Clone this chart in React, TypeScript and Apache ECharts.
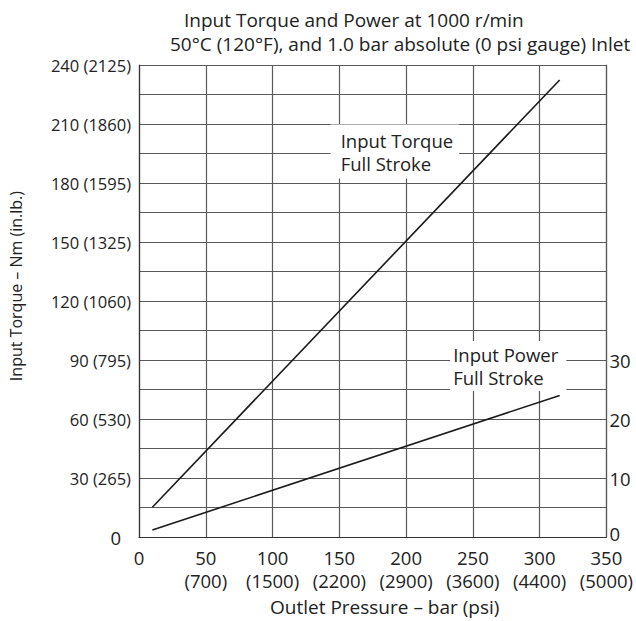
import React, { useEffect, useRef } from "react";
import * as echarts from "echarts";

const TITLE_LINE1 = "Input Torque and Power at 1000 r/min";
const TITLE_LINE2 = "50°C (120°F), and 1.0 bar absolute (0 psi gauge) Inlet";

const pressureTicks = [0, 50, 100, 150, 200, 250, 300, 350];
const psiLabels = ["", "(700)", "(1500)", "(2200)", "(2900)", "(3600)", "(4400)", "(5000)"];

const torqueTicks = [0, 30, 60, 90, 120, 150, 180, 210, 240];
const inlbLabels = ["", "(265)", "(530)", "(795)", "(1060)", "(1325)", "(1595)", "(1860)", "(2125)"];

const powerTicks = [0, 10, 20, 30];

// Input torque, full stroke: [bar, Nm]
const torqueData: [number, number][] = [
  [10, 15.2],
  [315, 232.4],
];
// Input power, full stroke: [bar, kW]
const powerData: [number, number][] = [
  [10, 1.2],
  [315, 24],
];

const FONT = "Open Sans";

export default function App() {
  const ref = useRef<HTMLDivElement>(null);
  useEffect(() => {
    if (!ref.current) return;
    const chart = echarts.init(ref.current, null, { renderer: "svg" });
    const gridColor = "#5a5a5a";
    chart.setOption({
      animation: false,
      backgroundColor: "#fff",
      textStyle: { fontFamily: FONT, color: "#222" },
      title: [
        {
          text: TITLE_LINE1,
          left: 179,
          top: 4,
          textStyle: { fontFamily: FONT, fontSize: 19, lineHeight: 22, fontWeight: "normal", color: "#222" },
        },
        {
          text: TITLE_LINE2,
          left: 165,
          top: 28,
          textStyle: { fontFamily: FONT, fontSize: 19, lineHeight: 22, fontWeight: "normal", color: "#222" },
        },
      ],
      grid: { left: 137, right: 29, top: 65, bottom: 78, containLabel: false },
      xAxis: {
        type: "value",
        min: 0,
        max: 350,
        interval: 50,
        name: "Outlet Pressure – bar (psi)",
        nameLocation: "middle",
        nameGap: 56,
        nameTextStyle: { fontFamily: FONT, fontSize: 19, color: "#222", padding: [0, 0, 0, 24] },
        axisLine: { show: true, lineStyle: { color: "#333", width: 1.2 } },
        axisTick: { show: false },
        splitLine: { show: true, lineStyle: { color: gridColor, width: 1.2 } },
        axisLabel: {
          fontFamily: FONT,
          fontSize: 18.5,
          color: "#222",
          margin: 9,
          lineHeight: 23,
          showMaxLabel: true,
          formatter: (v: number) => {
            const i = pressureTicks.indexOf(v);
            if (i < 0) return "";
            return psiLabels[i] ? `${v}\n${psiLabels[i]}` : `${v}`;
          },
        },
      },
      yAxis: [
        {
          type: "value",
          min: 0,
          max: 240,
          interval: 15,
          name: "Input Torque – Nm (in.lb.)",
          nameLocation: "middle",
          nameGap: 115,
          nameRotate: 90,
          nameTextStyle: { fontFamily: FONT, fontSize: 16, color: "#222", padding: [0, 0, 0, 30] },
          axisLine: { show: true, lineStyle: { color: "#333", width: 1.2 } },
          axisTick: { show: false },
          splitLine: { show: true, lineStyle: { color: gridColor, width: 1.2 } },
          axisLabel: {
            fontFamily: FONT,
            fontSize: 16.5,
            color: "#222",
            margin: 8,
            formatter: (v: number) => {
              const i = torqueTicks.indexOf(v);
              if (i < 0) return "";
              return inlbLabels[i] ? `${v} ${inlbLabels[i]}` : `{z|${v}}`;
            },
            rich: { z: { fontFamily: FONT, fontSize: 18.5, color: "#222", padding: [0, 10, 0, 0] } },
          },
        },
        {
          type: "value",
          min: 0,
          max: 80,
          interval: 10,
          position: "right",
          axisLine: { show: true, lineStyle: { color: gridColor, width: 1.2 } },
          axisTick: { show: false },
          splitLine: { show: false },
          axisLabel: {
            fontFamily: FONT,
            fontSize: 18.5,
            color: "#222",
            margin: 3,
            formatter: (v: number) => {
              if (powerTicks.indexOf(v) < 0) return "";
              return v === 0 ? `{z|${v}}` : `${v}`;
            },
            rich: { z: { fontFamily: FONT, fontSize: 18.5, color: "#222", padding: [0, 0, 8, 0] } },
          },
        },
      ],
      series: [
        {
          type: "line",
          name: "Input Torque",
          xAxisIndex: 0,
          yAxisIndex: 0,
          data: torqueData,
          showSymbol: false,
          symbol: "none",
          lineStyle: { color: "#1a1a1a", width: 1.6 },
          markPoint: {
            symbol: "circle",
            symbolSize: 0,
            label: {
              show: true,
              position: "right",
              distance: 0,
              formatter: "Input Torque\nFull Stroke",
              fontFamily: FONT,
              fontSize: 18.5,
              lineHeight: 23,
              color: "#222",
              align: "left",
              backgroundColor: "#fff",
              padding: [4, 6, 4, 10],
            },
            data: [{ coord: [143.5, 196] }],
          },
        },
        {
          type: "line",
          name: "Input Power",
          xAxisIndex: 0,
          yAxisIndex: 1,
          data: powerData,
          showSymbol: false,
          symbol: "none",
          lineStyle: { color: "#1a1a1a", width: 1.6 },
          markPoint: {
            symbol: "circle",
            symbolSize: 0,
            label: {
              show: true,
              position: "right",
              distance: 0,
              formatter: "Input Power\nFull Stroke",
              fontFamily: FONT,
              fontSize: 18.5,
              lineHeight: 23,
              color: "#222",
              align: "left",
              backgroundColor: "#fff",
              padding: [2, 8, 2, 3],
            },
            data: [{ coord: [233, 29] }],
          },
        },
      ],
    });
    return () => chart.dispose();
  }, []);
  return <div ref={ref} style={{ position: "fixed", left: 0, top: 0, width: 636, height: 621 }} />;
}
